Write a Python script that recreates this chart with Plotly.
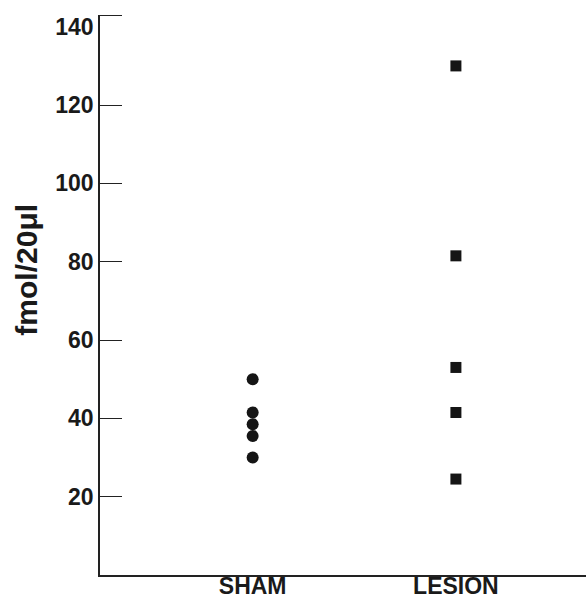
import plotly.graph_objects as go

categories = ["SHAM", "LESION"]
sham_values = [50, 41.5, 38.5, 35.5, 30]
lesion_values = [130, 81.5, 53, 41.5, 24.5]
y_tick_values = [20, 40, 60, 80, 100, 120, 140]
y_tick_labels = ["20", "40", "60", "80", "100", "120", "140"]
y_minor_ticks = [20, 40, 60, 80, 100, 120, 143]
y_title = "fmol/20μl"

fig = go.Figure()
fig.add_trace(go.Scatter(
    x=[categories[0]] * len(sham_values), y=sham_values, mode="markers",
    marker=dict(symbol="circle", size=12, color="#151515"), showlegend=False))
fig.add_trace(go.Scatter(
    x=[categories[1]] * len(lesion_values), y=lesion_values, mode="markers",
    marker=dict(symbol="square", size=11, color="#151515"), showlegend=False))

fig.update_layout(
    width=586, height=599,
    margin=dict(l=100, r=0, t=15, b=24, autoexpand=False),
    paper_bgcolor="white", plot_bgcolor="white",
    font=dict(family="Liberation Sans, Arial, sans-serif", color="#1a1a1a"),
    xaxis=dict(type="category", categoryorder="array", categoryarray=categories,
               range=[-0.751, 1.64], showgrid=False, zeroline=False,
               showline=True, linecolor="#222", linewidth=1.5, ticks="",
               tickfont=dict(size=23, weight="bold"), automargin=False,
               ticklabelstandoff=-10),
    yaxis=dict(range=[0, 143], showgrid=False, zeroline=False,
               showline=True, linecolor="#222", linewidth=1.5,
               tickvals=y_tick_values, ticktext=y_tick_labels,
               ticks="", tickfont=dict(size=23, weight="bold"),
               minor=dict(tickvals=y_minor_ticks, ticks="inside", ticklen=22,
                          tickcolor="#222", tickwidth=1.2, showgrid=False),
               automargin=False),
    annotations=[dict(text=y_title, textangle=-90, xref="paper", yref="paper",
                      x=-0.152, y=0.5455, xanchor="center", yanchor="middle",
                      showarrow=False, font=dict(size=30, weight="bold"))],
)

fig.write_html("out.html", post_script="document.body.style.margin='0';",
               config={"displayModeBar": False})
